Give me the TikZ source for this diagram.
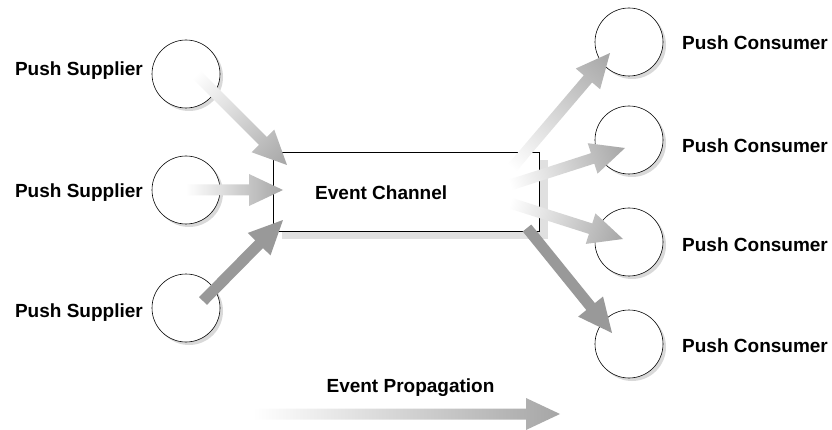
\documentclass[tikz,border=0pt]{standalone}
\usepackage{fontspec}
\setmainfont{Liberation Sans}
\usetikzlibrary{calc,shadows,positioning}

% broad shaded arrow from #1 to #2, style #3
\newcommand{\flowarrow}[3]{%
  \path let \p1=(#1), \p2=($(#2)-(#1)$), \n1={atan2(\y2,\x2)}, \n2={veclen(\x2,\y2)} in
    \pgfextra{\xdef\flowx{\x1}\xdef\flowy{\y1}\xdef\flowang{\n1}\xdef\flowlen{\n2}};
  \path[#3, transform canvas={shift={(\flowx,\flowy)}, rotate=\flowang}]
    (0pt,-5.5pt) -- ({\flowlen-34pt},-5.5pt) -- ({\flowlen-34pt},-16pt)
    -- ({\flowlen},0pt) -- ({\flowlen-34pt},16pt) -- ({\flowlen-34pt},5.5pt)
    -- (0pt,5.5pt) -- cycle;
}

\begin{document}
\begin{tikzpicture}[
    x=1pt, y=-1pt,
    unit/.style={circle, draw, fill=white, line width=0.6pt, minimum size=68pt,
      drop shadow={shadow xshift=3pt, shadow yshift=-3pt, fill=black!15, opacity=1}},
    chan/.style={draw, fill=white, line width=0.6pt, minimum width=266pt, minimum height=79pt,
      drop shadow={shadow xshift=9pt, shadow yshift=-8pt, fill=black!12, opacity=1}},
    lbl/.style={font=\bfseries\fontsize{19}{22}\selectfont, inner sep=0pt},
    fade/.style={left color=white, right color=black!35},
    full/.style={fill=black!40},
    ]
    \useasboundingbox (0,0) rectangle (832,430);
    % suppliers
    \node[unit] (s1) at (186,74) {};
    \node[unit] (s2) at (186,190) {};
    \node[unit] (s3) at (186,308) {};
    \node[lbl, anchor=base east] (s1lbl) at (143,75.5) {Push Supplier};
    \node[lbl, anchor=base east] (s2lbl) at (143,198) {Push Supplier};
    \node[lbl, anchor=base east] (s3lbl) at (143,317) {Push Supplier};
    % consumers
    \node[unit] (c1) at (629,42) {};
    \node[unit] (c2) at (629,140) {};
    \node[unit] (c3) at (629,242) {};
    \node[unit] (c4) at (629,344) {};
    \node[lbl, anchor=base west] (c1lbl) at (682,49.5) {Push Consumer};
    \node[lbl, anchor=base west] (c2lbl) at (682,153) {Push Consumer};
    \node[lbl, anchor=base west] (c3lbl) at (682,252) {Push Consumer};
    \node[lbl, anchor=base west] (c4lbl) at (682,352.5) {Push Consumer};
    % channel
    \node[chan] (ch) at (406,191.5) {};
    \node[lbl, anchor=base west] (chlbl) at (315,200) {Event Channel};
    % arrow ends
    \coordinate (s1tail) at (196,74);
    \coordinate (s1tip) at (287,165);
    \coordinate (s2tip) at (283,190);
    \coordinate (s3tail) at (203,301);
    \coordinate (s3tip) at (283,220);
    \coordinate (c1tail) at (512,168);
    \coordinate (c1tip) at (610,53);
    \coordinate (c2tail) at (510,185);
    \coordinate (c2tip) at (625,148);
    \coordinate (c3tail) at (510,203);
    \coordinate (c3tip) at (623,239);
    \coordinate (c4tail) at (527,228);
    \coordinate (c4tip) at (612,333);
    \coordinate (ptail) at (253,414);
    \coordinate (ptip) at (560,414);
    % arrows
    \flowarrow{s1tail}{s1tip}{fade}
    \flowarrow{s2}{s2tip}{fade}
    \flowarrow{s3tail}{s3tip}{full}
    \flowarrow{c1tail}{c1tip}{fade}
    \flowarrow{c2tail}{c2tip}{fade}
    \flowarrow{c3tail}{c3tip}{fade}
    \flowarrow{c4tail}{c4tip}{full}
    \flowarrow{ptail}{ptip}{fade}
    \node[lbl, anchor=base] (plbl) at (410.5,392) {Event Propagation};
\end{tikzpicture}
\end{document}
